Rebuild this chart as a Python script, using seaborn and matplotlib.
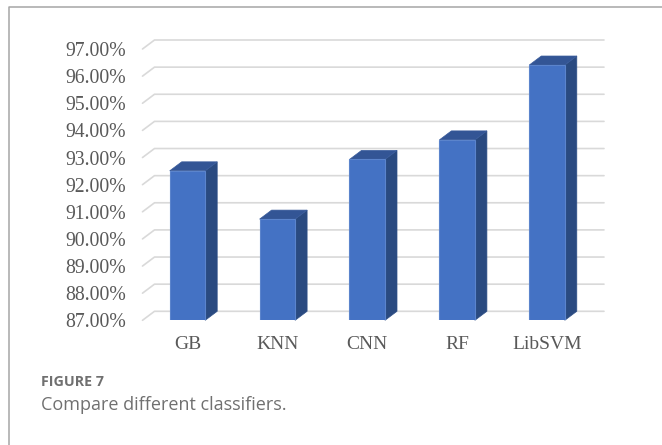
import matplotlib
matplotlib.use("Agg")
import matplotlib.pyplot as plt
import pandas as pd
import seaborn as sns
from matplotlib.lines import Line2D
from matplotlib.patches import Polygon
from matplotlib.ticker import PercentFormatter
from matplotlib.transforms import IdentityTransform

classifiers = ["GB", "KNN", "CNN", "RF", "LibSVM"]
accuracy = [92.51, 90.73, 92.93, 93.65, 96.41]
y_ticks = [87, 88, 89, 90, 91, 92, 93, 94, 95, 96, 97]

# depth of the fake 3d look, in pixels
DX = 12
DY = 9
W = 662
H = 445

sns.set_style("white")
plt.rcParams["font.family"] = ["Liberation Serif", "DejaVu Serif"]

df = pd.DataFrame({"clf": classifiers, "acc": accuracy})

fig = plt.figure(figsize=(W / 100, H / 100), dpi=100, facecolor="white")
ax = fig.add_axes([142.5 / W, (H - 320.3) / H, 449.5 / W, 271.3 / H])
ax.patch.set_alpha(0)
ax.set_zorder(3)

sns.barplot(data=df, x="clf", y="acc", color="#4472C4", saturation=1, width=0.395,
            bottom=87, ax=ax, zorder=5, linewidth=0.8, edgecolor="#5B84CC")
# barplot draws heights from the bottom, so fix them back to the values
for bar, val in zip(ax.patches, accuracy):
    bar.set_y(87)
    bar.set_height(val - 87)

ax.set_xlim(-0.5, 4.5)
ax.set_ylim(87, 97)
ax.set_yticks(y_ticks)
ax.yaxis.set_major_formatter(PercentFormatter(decimals=2))
ax.set_xlabel("")
ax.set_ylabel("")
sns.despine(ax=ax, left=True, bottom=True)
ax.tick_params(axis="y", length=0, pad=12, labelsize=14.2, labelcolor="#595959")
ax.tick_params(axis="x", length=0, pad=11.5, labelsize=14, labelcolor="#595959")

fig.canvas.draw()
to_px = ax.transData.transform
px = IdentityTransform()

# gridlines on the back wall and the little diagonal stubs on the side wall
for t in y_ticks:
    x0, y0 = to_px((-0.5, t))
    x1, _ = to_px((4.5, t))
    fig.add_artist(Line2D([x0, x0 + DX, x1 + DX], [y0, y0 + DY, y0 + DY], transform=px,
                          color="#D9D9D9", lw=1.2, zorder=1))

# side and top faces of each bar
for bar in ax.patches:
    (xl, yb) = to_px((bar.get_x(), bar.get_y()))
    (xr, yt) = to_px((bar.get_x() + bar.get_width(), bar.get_y() + bar.get_height()))
    side = [(xr, yb), (xr + DX, yb + DY), (xr + DX, yt + DY), (xr, yt)]
    top = [(xl, yt), (xl + DX, yt + DY), (xr + DX, yt + DY), (xr, yt)]
    fig.add_artist(Polygon(side, closed=True, transform=px, facecolor="#2A4A80",
                           edgecolor="#2F5088", lw=0.5, zorder=2))
    fig.add_artist(Polygon(top, closed=True, transform=px, facecolor="#335595",
                           edgecolor="#3A5C9C", lw=0.5, zorder=2))

# page frame
frame = "#A6A6A6"
fig.add_artist(Line2D([8.5 / W, 8.5 / W, 1], [0, (H - 6.5) / H, (H - 6.5) / H],
                      transform=fig.transFigure, color=frame, lw=1.1))

fig.text(41 / W, (H - 381.5) / H, "FIGURE 7", family="Open Sans", fontsize=10.3, fontweight="bold",
         color="#707070", va="center", ha="left")
fig.text(41 / W, (H - 405) / H, "Compare different classifiers.", family="Open Sans",
         fontsize=13, color="#707070", va="center", ha="left")

fig.savefig("out.png", dpi=100)
